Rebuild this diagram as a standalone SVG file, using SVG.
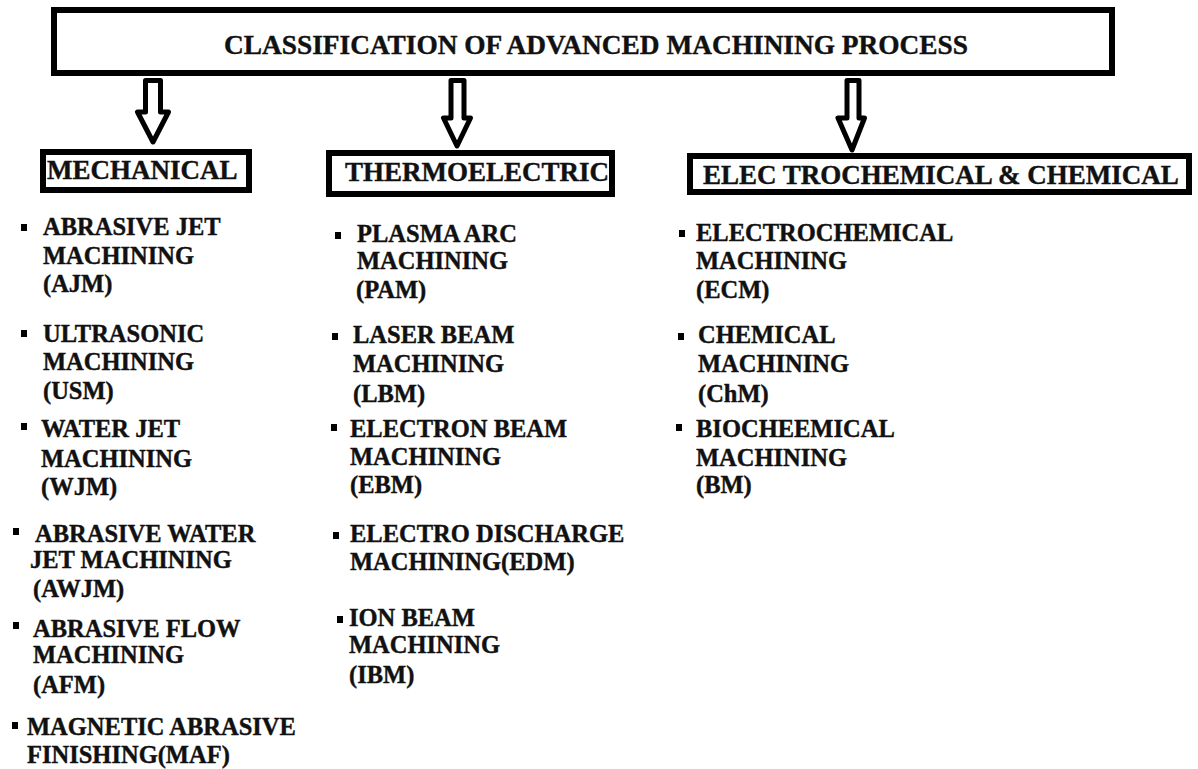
<svg xmlns="http://www.w3.org/2000/svg" width="1198" height="769" viewBox="0 0 1198 769">
<style>
.box{fill:#fff;stroke:#000;stroke-width:6}
.arrow{fill:#fff;stroke:#000;stroke-width:5;stroke-linejoin:round}
text{font-family:'Liberation Serif','Times New Roman',serif;font-weight:700;fill:#111;stroke:#111;stroke-width:0.4}
.title{font-size:27px}
.cat{font-size:27px}
.item{font-size:24.5px}
.b{fill:#000}
</style>
<rect width="1198" height="769" fill="#fff"/>
<g id="title">
<rect class="box" x="54" y="10" width="1058" height="63"/>
<text class="title" x="224" y="54" textLength="744" lengthAdjust="spacingAndGlyphs">CLASSIFICATION OF ADVANCED MACHINING PROCESS</text>
</g>
<g id="connectors">
<path class="arrow" d="M145.5,80.5 H160.5 V112 H168.5 L153,142 L137.5,112 H145.5 Z"/>
<path class="arrow" d="M451,80.5 H464 V118 H470.5 L457,146 L443.5,118 H451 Z"/>
<path class="arrow" d="M847,80.5 H859 V118 H864.5 L852,150 L838,118 H847 Z"/>
</g>
<g id="mechanical">
<rect class="box" x="43" y="152" width="206" height="38"/>
<text class="cat" x="47" y="179">MECHANICAL</text>
</g>
<g id="thermoelectric">
<rect class="box" x="329" y="153" width="283" height="41"/>
<text class="cat" x="345" y="181">THERMOELECTRIC</text>
</g>
<g id="electrochemical">
<rect class="box" x="690" y="156" width="499" height="36"/>
<text class="cat" x="703" y="184">ELEC TROCHEMICAL &amp; CHEMICAL</text>
</g>
<g id="mech-items">
<rect class="b" x="21" y="224" width="6" height="7"/>
<text class="item" x="43" y="235">ABRASIVE JET</text>
<text class="item" x="43" y="264">MACHINING</text>
<text class="item" x="43" y="292">(AJM)</text>
<rect class="b" x="21" y="330" width="6" height="7"/>
<text class="item" x="43" y="342">ULTRASONIC</text>
<text class="item" x="43" y="370">MACHINING</text>
<text class="item" x="43" y="399">(USM)</text>
<rect class="b" x="21" y="423" width="6" height="7"/>
<text class="item" x="41" y="437">WATER JET</text>
<text class="item" x="41" y="467">MACHINING</text>
<text class="item" x="41" y="495">(WJM)</text>
<rect class="b" x="13" y="528" width="6" height="7"/>
<text class="item" x="35" y="542">ABRASIVE WATER</text>
<text class="item" x="30" y="568">JET MACHINING</text>
<text class="item" x="33" y="597">(AWJM)</text>
<rect class="b" x="13" y="622" width="6" height="7"/>
<text class="item" x="33" y="637">ABRASIVE FLOW</text>
<text class="item" x="33" y="663">MACHINING</text>
<text class="item" x="33" y="693">(AFM)</text>
<rect class="b" x="12" y="722" width="6" height="7"/>
<text class="item" x="27" y="735">MAGNETIC ABRASIVE</text>
<text class="item" x="27" y="763">FINISHING(MAF)</text>
</g>
<g id="thermo-items">
<rect class="b" x="335" y="232" width="6" height="7"/>
<text class="item" x="357" y="242">PLASMA ARC</text>
<text class="item" x="357" y="269">MACHINING</text>
<text class="item" x="356" y="298">(PAM)</text>
<rect class="b" x="332" y="333" width="6" height="7"/>
<text class="item" x="353" y="343">LASER BEAM</text>
<text class="item" x="353" y="372">MACHINING</text>
<text class="item" x="353" y="402">(LBM)</text>
<rect class="b" x="331" y="424" width="6" height="7"/>
<text class="item" x="350" y="437">ELECTRON BEAM</text>
<text class="item" x="350" y="465">MACHINING</text>
<text class="item" x="350" y="493">(EBM)</text>
<rect class="b" x="333" y="532" width="6" height="7"/>
<text class="item" x="350" y="542">ELECTRO DISCHARGE</text>
<text class="item" x="350" y="570">MACHINING(EDM)</text>
<rect class="b" x="337" y="616" width="6" height="7"/>
<text class="item" x="349" y="626">ION BEAM</text>
<text class="item" x="349" y="653">MACHINING</text>
<text class="item" x="349" y="683">(IBM)</text>
</g>
<g id="chem-items">
<rect class="b" x="679" y="230" width="6" height="7"/>
<text class="item" x="696" y="241">ELECTROCHEMICAL</text>
<text class="item" x="696" y="269">MACHINING</text>
<text class="item" x="696" y="298">(ECM)</text>
<rect class="b" x="678" y="333" width="6" height="7"/>
<text class="item" x="698" y="343">CHEMICAL</text>
<text class="item" x="698" y="372">MACHINING</text>
<text class="item" x="698" y="402">(ChM)</text>
<rect class="b" x="676" y="424" width="6" height="7"/>
<text class="item" x="696" y="437">BIOCHEEMICAL</text>
<text class="item" x="696" y="466">MACHINING</text>
<text class="item" x="696" y="493">(BM)</text>
</g>
</svg>
